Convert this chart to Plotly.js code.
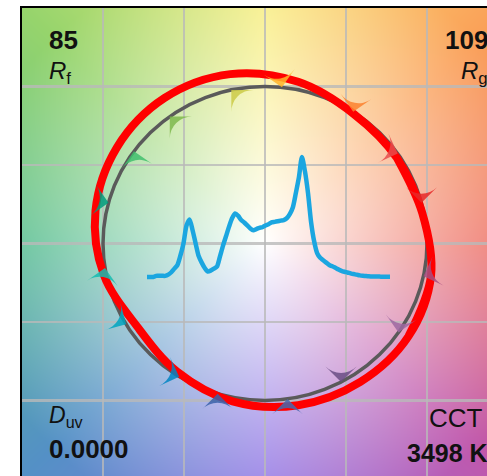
<!DOCTYPE html>
<html>
<head>
<meta charset="utf-8">
<script src="https://cdn.plot.ly/plotly-3.0.1.min.js"></script>
<style>
html,body{margin:0;padding:0;overflow:hidden;background:#fff;}
#chart{width:510px;height:482px;}
</style>
</head>
<body>
<div id="chart"></div>
<script>
// ---------- DATA ----------
// TM-30 hue bins (1..16), bin-centre angles in degrees
const binAngle = [11.25, 33.75, 56.25, 78.75, 101.25, 123.75, 146.25, 168.75,
                  191.25, 213.75, 236.25, 258.75, 281.25, 303.75, 326.25, 348.75];
// reference gamut radius (normalised)
const referenceRadius = 1.0;
// test-source gamut radius at each bin centre
const testRadius = [0.99, 0.98, 0.99, 1.05, 1.10, 1.115, 1.10, 1.067,
                    1.015, 0.95, 0.98, 1.025, 1.05, 1.06, 1.065, 1.045];
// arrow positions (angle on reference circle) and pointing direction (deg, screen)
const arrowPosAngle = [15, 35, 57, 84, 102, 126, 144, 165, 189, 211, 238, 253, 278, 298, 325.5, 348];
const arrowDirection = [270, -20, 260, 280, 135, 135, 100, 350, 80, 330, 340, 90, 90, 270, 260, 200];
const binColors = ['#e62828', '#e74b4b', '#fb812e', '#ffb529', '#cbca46', '#7eb94c', '#41c06d', '#009c7c',
                   '#16bcb0', '#00a4bf', '#0085c3', '#3b62aa', '#4568ae', '#6a4e85', '#9d69a1', '#a74f81'];

// spectral power distribution (relative), 380-780 nm in 5 nm steps
const wavelength = [];
for (let w = 380; w <= 780; w += 5) wavelength.push(w);
const spd = [0.00, 0.00, 0.00, 0.01, 0.01, 0.01, 0.01, 0.02, 0.04, 0.07,
             0.10, 0.18, 0.28, 0.43, 0.48, 0.39, 0.28, 0.175, 0.12, 0.075,
             0.046, 0.054, 0.07, 0.086, 0.17, 0.26, 0.34, 0.42, 0.49, 0.53,
             0.51, 0.475, 0.455, 0.43, 0.405, 0.39, 0.40, 0.41, 0.415, 0.43,
             0.44, 0.455, 0.46, 0.465, 0.47, 0.475, 0.49, 0.525, 0.58, 0.70,
             0.83, 1.00, 0.88, 0.70, 0.46, 0.30, 0.20, 0.16, 0.14, 0.12,
             0.10, 0.09, 0.077, 0.064, 0.052, 0.044, 0.038, 0.031, 0.025, 0.02,
             0.014, 0.01, 0.008, 0.006, 0.005, 0.004, 0.004, 0.003, 0.003, 0.003, 0.003];

// metric labels
const Rf = '85', Rg = '109', Duv = '0.0000', CCT = '3498 K';

// ---------- BACKGROUND (decorative hue field) ----------
const bgAnchorAngle = [0, 45, 90, 135, 180, 225, 270, 315, 360];
const bgAnchorColor = [[236,104,92],[250,160,88],[248,238,128],[150,212,108],[84,188,142],
                       [84,144,198],[144,118,228],[192,88,172],[236,104,92]];
function bgColor(xu, yu){
  let a = Math.atan2(yu, xu) * 180 / Math.PI; if (a < 0) a += 360;
  const r = Math.sqrt(xu*xu + yu*yu);
  let k = 0; while (a > bgAnchorAngle[k+1]) k++;
  const t = (a - bgAnchorAngle[k]) / (bgAnchorAngle[k+1] - bgAnchorAngle[k]);
  const c0 = bgAnchorColor[k], c1 = bgAnchorColor[k+1];
  const s = Math.min(1, Math.pow(r / 1.85, 0.95));
  return [0,1,2].map(i => 255*(1-s) + (c0[i]*(1-t) + c1[i]*t)*s);
}
const BW = 486, BH = 471;
const cv = document.createElement('canvas'); cv.width = BW; cv.height = BH;
const ctx = cv.getContext('2d'); const im = ctx.createImageData(BW, BH);
for (let j = 0; j < BH; j++) {
  const yu = 1.5 - 3 * (j + 0.5) / BH;
  for (let i = 0; i < BW; i++) {
    const xu = -1.5 + 3 * (i + 0.5) / BW;
    const c = bgColor(xu, yu); const p = 4 * (j * BW + i);
    im.data[p] = c[0]; im.data[p+1] = c[1]; im.data[p+2] = c[2]; im.data[p+3] = 255;
  }
}
ctx.putImageData(im, 0, 0);
const bgURL = cv.toDataURL('image/png');

// ---------- TRACES ----------
const rad = d => d * Math.PI / 180;
const tx = binAngle.map((a, i) => testRadius[i] * Math.cos(rad(a)));
const ty = binAngle.map((a, i) => testRadius[i] * Math.sin(rad(a)));
const n = tx.length;
// wrap for smooth closure
const txw = [tx[n-2], tx[n-1]].concat(tx, [tx[0], tx[1]]);
const tyw = [ty[n-2], ty[n-1]].concat(ty, [ty[0], ty[1]]);

const testTrace = {
  x: txw, y: tyw, mode: 'lines', type: 'scatter',
  line: {color: '#ff0000', width: 8, shape: 'spline', smoothing: 1},
  hoverinfo: 'skip'
};
const arrowTrace = {
  x: arrowPosAngle.map(a => referenceRadius * Math.cos(rad(a))),
  y: arrowPosAngle.map(a => referenceRadius * Math.sin(rad(a))),
  mode: 'markers', type: 'scatter',
  marker: {symbol: 'arrow-wide', size: 22, color: binColors, opacity: 0.85,
           angle: arrowDirection.map(d => 90 - d), line: {width: 0}},
  hoverinfo: 'skip'
};
const spdTrace = {
  x: wavelength, y: spd, xaxis: 'x2', yaxis: 'y2', mode: 'lines', type: 'scatter',
  line: {color: '#1ba6e0', width: 4.5, shape: 'spline', smoothing: 0.7},
  hoverinfo: 'skip'
};

const txt = (text, x, y, xa, size, extra) => Object.assign({
  text: text, x: x, y: y, xref: 'paper', yref: 'paper', xanchor: xa, yanchor: 'middle',
  showarrow: false, font: {family: 'Liberation Sans, Arial, sans-serif', size: size, color: '#111'}
}, extra || {});

const layout = {
  width: 510, height: 482,
  margin: {l: 22, r: 2, t: 8, b: 3},
  paper_bgcolor: '#ffffff', plot_bgcolor: '#ffffff',
  showlegend: false,
  xaxis: {range: [-1.5, 1.5], dtick: 0.5, tick0: 0, showticklabels: false, ticks: '',
          showgrid: true, gridcolor: 'rgba(185,185,185,0.8)', gridwidth: 2.5, zeroline: false,
          showline: true, mirror: true, linecolor: '#000', linewidth: 2.5, fixedrange: true},
  yaxis: {range: [-1.5, 1.5], dtick: 0.5, tick0: 0, showticklabels: false, ticks: '',
          showgrid: true, gridcolor: 'rgba(185,185,185,0.8)', gridwidth: 2.5, zeroline: false,
          showline: true, mirror: true, linecolor: '#000', linewidth: 2.5, fixedrange: true},
  xaxis2: {overlaying: 'x', range: [174.2, 974.2], visible: false, fixedrange: true},
  yaxis2: {overlaying: 'y', range: [-1.683, 2.242], visible: false, fixedrange: true},
  images: [{source: bgURL, xref: 'x', yref: 'y', x: -1.5, y: 1.5, sizex: 3, sizey: 3,
            sizing: 'stretch', layer: 'below'}],
  shapes: [{type: 'circle', xref: 'x', yref: 'y', x0: -referenceRadius, x1: referenceRadius,
            y0: -referenceRadius, y1: referenceRadius, layer: 'between',
            line: {color: '#5a5a5a', width: 3.5}}],
  annotations: [
    txt('<b>' + Rf + '</b>', 0.0514, 0.933, 'left', 26),
    txt('<i>R</i><sub>f</sub>', 0.0514, 0.862, 'left', 24),
    txt('<b>' + Rg + '</b>', 0.963, 0.933, 'right', 26),
    txt('<i>R</i><sub>g</sub>', 0.963, 0.862, 'right', 24),
    txt('<i>D</i><sub>uv</sub>', 0.0514, 0.133, 'left', 23),
    txt('<b>' + Duv + '</b>', 0.0514, 0.064, 'left', 26),
    txt('CCT', 0.953, 0.1295, 'right', 26),
    txt('<b>' + CCT + '</b>', 0.963, 0.0552, 'right', 25)
  ]
};

Plotly.newPlot('chart', [testTrace, arrowTrace, spdTrace], layout, {displayModeBar: false, staticPlot: true});
</script>
</body>
</html>
